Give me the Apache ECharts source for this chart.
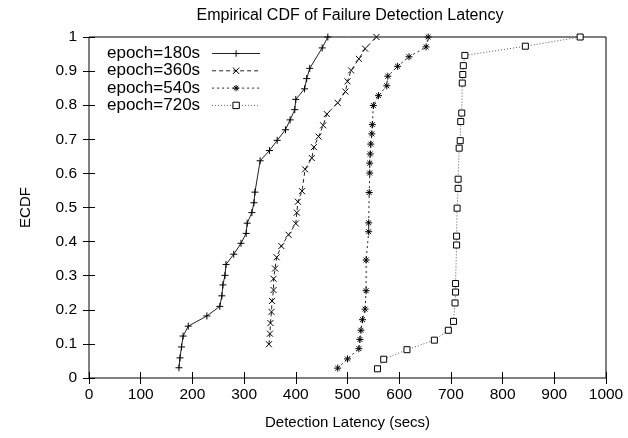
<!DOCTYPE html>
<html>
<head>
<meta charset="utf-8">
<script src="https://cdn.jsdelivr.net/npm/echarts@6/dist/echarts.min.js"></script>
<style>
  html, body { margin: 0; padding: 0; background: #fff; }
  #chart { width: 628px; height: 438px; }
</style>
</head>
<body>
<div id="chart"></div>
<script>
// values: [latency (secs), ECDF]
var epoch180 = [
  [174, 0.030], [176, 0.059], [179, 0.091], [182, 0.123], [192, 0.152],
  [228, 0.182], [253, 0.210], [257, 0.241], [259, 0.273], [263, 0.301],
  [265, 0.333], [280, 0.363], [294, 0.395], [304, 0.424], [306, 0.454],
  [315, 0.485], [319, 0.514], [321, 0.545], [331, 0.637], [349, 0.667],
  [364, 0.697], [380, 0.728], [389, 0.757], [398, 0.787], [400, 0.817],
  [417, 0.848], [421, 0.878], [427, 0.908], [451, 0.968], [462, 1.000]
]
var epoch360 = [
  [348, 0.099], [350, 0.130], [351, 0.161], [353, 0.194], [354, 0.226],
  [357, 0.258], [357, 0.291], [360, 0.321], [363, 0.354], [372, 0.387],
  [386, 0.420], [400, 0.453], [402, 0.485], [404, 0.517], [412, 0.548],
  [418, 0.612], [431, 0.645], [435, 0.677], [444, 0.708], [453, 0.741],
  [460, 0.774], [481, 0.807], [496, 0.840], [500, 0.870], [507, 0.902],
  [522, 0.936], [534, 0.966], [556, 1.000]
]
var epoch540 = [
  [481, 0.029], [500, 0.056], [522, 0.086], [524, 0.113], [526, 0.140],
  [529, 0.171], [534, 0.202], [536, 0.256], [536, 0.346], [541, 0.429],
  [541, 0.455], [542, 0.544], [543, 0.601], [543, 0.630], [544, 0.657],
  [545, 0.686], [547, 0.716], [548, 0.743], [550, 0.799], [560, 0.828],
  [576, 0.857], [578, 0.885], [597, 0.914], [619, 0.942], [652, 0.971],
  [656, 1.000]
]
var epoch720 = [
  [558, 0.027], [570, 0.055], [615, 0.083], [668, 0.111], [695, 0.140],
  [705, 0.166], [708, 0.220], [709, 0.252], [709, 0.277], [711, 0.390],
  [711, 0.416], [712, 0.498], [714, 0.556], [714, 0.583], [716, 0.674],
  [718, 0.696], [719, 0.752], [721, 0.777], [722, 0.865], [723, 0.890],
  [724, 0.916], [727, 0.946], [844, 0.973], [950, 1.000]
]

var plusPath = 'path://M5,0 L5,10 M0,5 L10,5'
var crossPath = 'path://M0,0 L10,10 M10,0 L0,10'
var starPath = 'path://M5,0 L5,10 M0,5 L10,5 M1.5,1.5 L8.5,8.5 M8.5,1.5 L1.5,8.5'

var font = 'Liberation Sans, Arial, sans-serif'

var chart = echarts.init(document.getElementById('chart'))

function makeSeries(name, data, symbol, size, dash, color, hollow) {
  return {
    name: name,
    type: 'line',
    data: data,
    symbol: symbol,
    symbolSize: size,
    showAllSymbol: true,
    animation: false,
    lineStyle: { color: color, width: 1, type: dash },
    itemStyle: {
      color: hollow ? '#fff' : '#000',
      borderColor: '#000',
      borderWidth: 1
    },
    emphasis: { disabled: true }
  }
}

var option = {
  backgroundColor: '#fff',
  title: {
    text: 'Empirical CDF of Failure Detection Latency',
    left: 345,
    textAlign: 'center',
    top: 3,
    textStyle: { fontFamily: font, fontSize: 16, fontWeight: 'normal', color: '#000' }
  },
  legend: {
    orient: 'vertical',
    left: 107,
    top: 45,
    align: 'right',
    itemWidth: 48,
    itemHeight: 8,
    itemGap: 0.3,
    padding: 0,
    lineStyle: { width: 1 },
    itemStyle: { borderWidth: 1 },
    textStyle: { fontFamily: font, fontSize: 17, lineHeight: 17, color: '#000', padding: [0, 7, 0, 0] },
    data: ['epoch=180s', 'epoch=360s', 'epoch=540s', 'epoch=720s']
  },
  grid: {
    left: 89, right: 22, top: 37, bottom: 60,
    show: true, borderColor: '#000', borderWidth: 1, backgroundColor: 'transparent'
  },
  xAxis: [{
    type: 'value', min: 0, max: 1000, interval: 100,
    name: 'Detection Latency (secs)', nameLocation: 'middle', nameGap: 37,
    nameTextStyle: { fontFamily: font, fontSize: 15, color: '#000' },
    axisLine: { show: false },
    axisTick: { inside: true, length: 6, lineStyle: { color: '#000' } },
    axisLabel: { fontFamily: font, fontSize: 15.5, color: '#000', margin: 9, formatter: function (v) { return String(v) } },
    splitLine: { show: false }
  }, {
    type: 'value', min: 0, max: 1000, interval: 100, position: 'top',
    axisLine: { show: false },
    axisTick: { inside: true, length: 6, lineStyle: { color: '#000' } },
    axisLabel: { show: false },
    splitLine: { show: false }
  }],
  yAxis: [{
    type: 'value', min: 0, max: 1, interval: 0.1,
    name: 'ECDF', nameLocation: 'middle', nameGap: 56, nameRotate: 90,
    nameTextStyle: { fontFamily: font, fontSize: 15, color: '#000' },
    axisLine: { show: false },
    axisTick: { inside: true, length: 6, lineStyle: { color: '#000' } },
    axisLabel: { fontFamily: font, fontSize: 15.5, color: '#000', margin: 12 },
    splitLine: { show: false }
  }, {
    type: 'value', min: 0, max: 1, interval: 0.1, position: 'right',
    axisLine: { show: false },
    axisTick: { inside: true, length: 6, lineStyle: { color: '#000' } },
    axisLabel: { show: false },
    splitLine: { show: false }
  }],
  series: [
    makeSeries('epoch=180s', epoch180, plusPath, 7, 'solid', '#222', false),
    makeSeries('epoch=360s', epoch360, crossPath, 6, [4, 3], '#222', false),
    makeSeries('epoch=540s', epoch540, starPath, 7, [2, 3], '#222', false),
    makeSeries('epoch=720s', epoch720, 'rect', 6, [1, 2], '#555', true)
  ]
}

chart.setOption(option)
</script>
</body>
</html>
